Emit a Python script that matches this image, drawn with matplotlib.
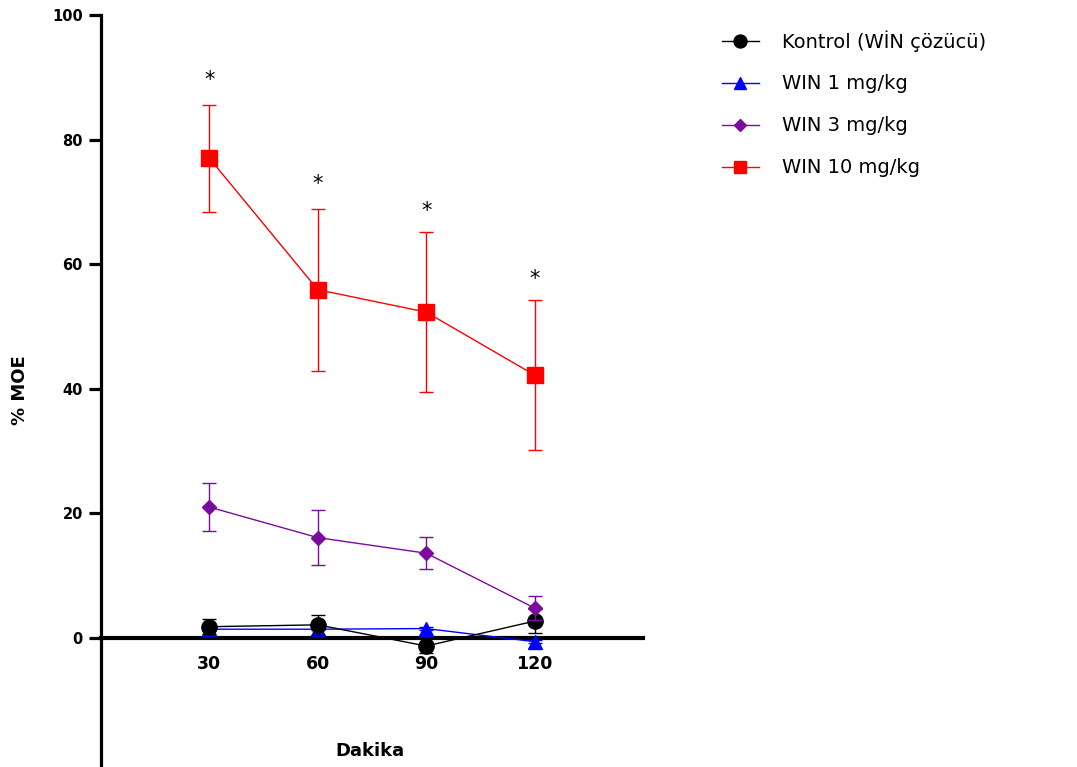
import numpy as np
import matplotlib
matplotlib.use("Agg")
import matplotlib.pyplot as plt
from matplotlib.lines import Line2D

# --- Data ---
minutes = [30, 60, 90, 120]

kontrol = [1.8, 2.1, -1.3, 2.7]
kontrol_sem = [1.2, 1.6, 1.1, 1.9]

win1 = [1.4, 1.4, 1.5, -0.6]
win1_sem = [0.2, 0.2, 0.2, 0.2]

win3 = [21.0, 16.1, 13.6, 4.8]
win3_sem = [3.9, 4.4, 2.6, 2.0]

win10 = [77.0, 55.9, 52.3, 42.2]
win10_sem = [8.6, 13.0, 12.9, 12.0]

star_y = [89.6, 72.9, 68.5, 57.6]

labels = ["Kontrol (WİN çözücü)", "WIN 1 mg/kg", "WIN 3 mg/kg", "WIN 10 mg/kg"]
colors = ["black", "#0000ff", "#7b0a9e", "#ff0000"]
markers = ["o", "^", "D", "s"]
msizes = [11, 9.5, 7, 11]

y_ticks = [0, 20, 40, 60, 80, 100]

fig = plt.figure(figsize=(10.77, 7.67), dpi=100)
ax = fig.add_axes([101 / 1077, 2 / 767, 542 / 1077, 750 / 767])

series = [(kontrol, kontrol_sem), (win1, win1_sem), (win3, win3_sem), (win10, win10_sem)]
zorders = [4, 3, 5, 6]
for (vals, sem), c, m, ms, lab, z in zip(series, colors, markers, msizes, labels, zorders):
    ax.errorbar(minutes, vals, yerr=sem, color=c, marker=m, markersize=ms,
                lw=1.0, elinewidth=1.0, capsize=5.2, capthick=1.0,
                markeredgecolor=c, zorder=z, clip_on=False)

# anlamlılık yıldızları
for x, y in zip(minutes, star_y):
    ax.text(x, y, "*", ha="center", va="center", fontsize=15, color="black")

ax.set_xlim(0, 150)
ax.set_ylim(-20.4, 100)

ax.spines["top"].set_visible(False)
ax.spines["right"].set_visible(False)
ax.spines["bottom"].set_position(("data", 0))
ax.spines["bottom"].set_linewidth(3)
ax.spines["left"].set_linewidth(2.3)

ax.set_yticks(y_ticks)
ax.set_yticklabels([str(t) for t in y_ticks], fontsize=10.5, fontweight="bold")
ax.tick_params(axis="y", length=9, width=2.3, pad=4)

ax.set_xticks(minutes)
ax.set_xticklabels([str(m) for m in minutes], fontsize=12.5, fontweight="bold")
ax.tick_params(axis="x", length=0, pad=12)

ax.set_xlabel("Dakika", fontsize=13, fontweight="bold")
ax.xaxis.set_label_coords(0.496, 0.031)
ax.set_ylabel("% MOE", fontsize=13, fontweight="bold")
ax.yaxis.set_label_coords(-0.133, 0.5)

handles = [Line2D([0], [0], color=c, marker=m, markersize=ms * 0.85, lw=1.0)
           for c, m, ms in zip(colors, markers, msizes)]
fig.legend(handles, labels, loc="upper left", bbox_to_anchor=(722 / 1077, 1 - 30 / 767),
           frameon=False, fontsize=14, handlelength=1.9, handletextpad=1.2,
           labelspacing=1.18, borderpad=0, borderaxespad=0)

fig.savefig("out.png", dpi=100)
